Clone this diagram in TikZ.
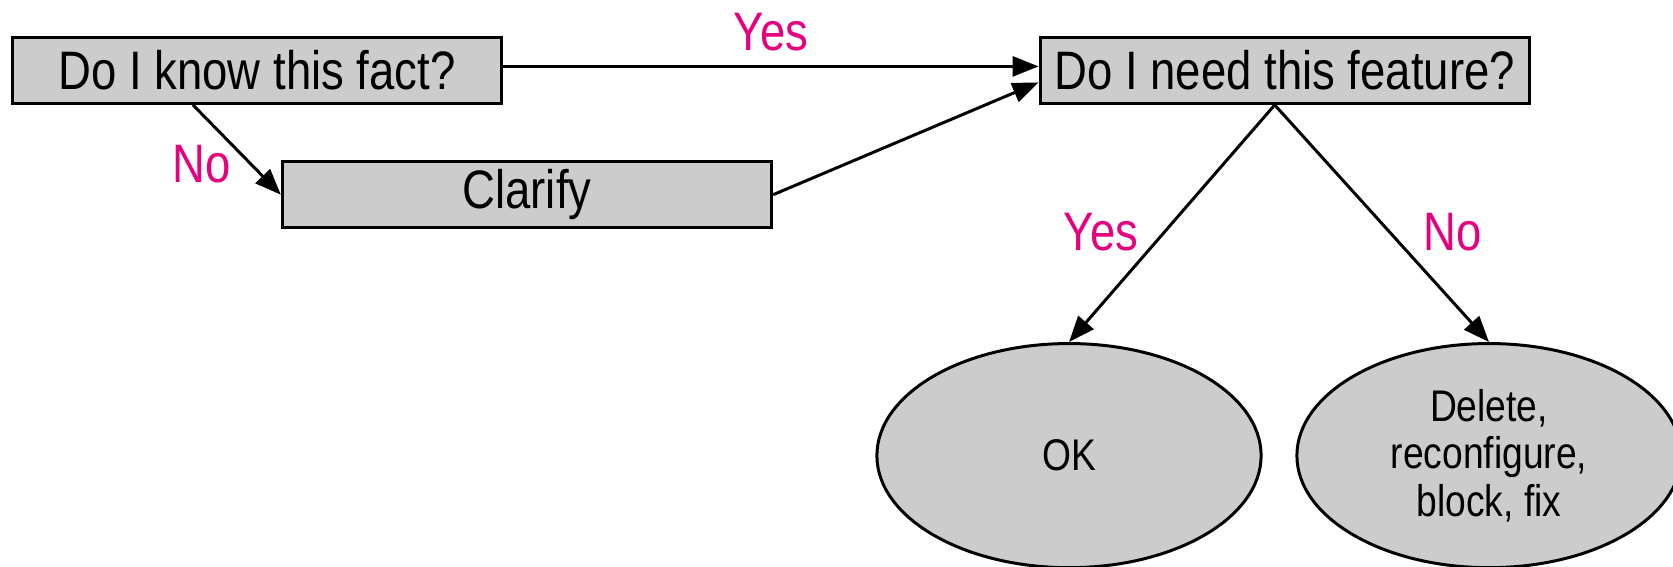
\documentclass[tikz,border=0pt]{standalone}
\usepackage{fontspec}
\setmainfont{Liberation Sans}[FakeStretch=0.84]
\usetikzlibrary{arrows.meta,shapes.geometric}
\definecolor{tmag}{HTML}{E6007E}
\definecolor{boxgray}{HTML}{CCCCCC}
\begin{document}
\begin{tikzpicture}[x=0.01cm,y=-0.01cm,
  qbox/.style={draw=black,line width=0.85pt,fill=boxgray,minimum width=4.89cm,minimum height=0.66cm,inner sep=0pt,font=\fontsize{15.4}{16}\selectfont},
  endell/.style={ellipse,draw=black,line width=0.85pt,fill=boxgray,minimum width=3.84cm,minimum height=2.24cm,inner sep=0pt,align=center,font=\fontsize{12.6}{13.6}\selectfont},
  conn/.style={line width=0.85pt,-{Triangle[length=0.26cm,width=0.2cm]}},
  lbl/.style={text=tmag,font=\fontsize{15.4}{16}\selectfont,inner sep=0pt}]
\useasboundingbox (0,0) rectangle (1673,566);
\node[qbox] (know) at (257,70.4) {Do I know this fact?};
\node[qbox] (clarify) at (527,194.7) {Clarify};
\node[qbox] (need) at (1284.7,70.4) {Do I need this feature?};
\node[endell] (ok) at (1069,455.6) {OK};
\node[endell] (fix) at (1489,455.6) {Delete,\\reconfigure,\\block, fix};
\draw[conn] ([yshift=0.04cm]know.east) -- ([yshift=0.04cm]need.west);
\draw[conn] ([xshift=-0.64cm]know.south) -- (clarify.west);
\draw[conn] (clarify.east) -- ([yshift=-0.12cm]need.west);
\coordinate (apex) at ([xshift=-0.1cm]need.south);
\draw[conn] (apex) -- (ok.north);
\draw[conn] (apex) -- (fix.north);
\node[lbl] (yes1) at (771,32) {Yes};
\node[lbl] (no1) at (202,164) {No};
\node[lbl] (yes2) at (1101,232) {Yes};
\node[lbl] (no2) at (1453,232) {No};
\end{tikzpicture}
\end{document}
